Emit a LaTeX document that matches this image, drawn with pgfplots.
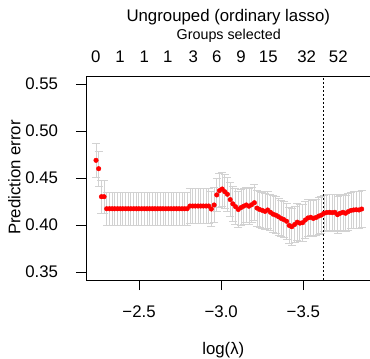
\documentclass[border=0pt]{standalone}
\usepackage{pgfplots}
\usepackage{pgfplotstable}
\usepackage{fontspec}
\setmainfont{Liberation Sans}
\pgfplotsset{compat=1.18}
\definecolor{bargray}{RGB}{210,210,210}
\pgfplotstableread{
x y e
-2.238 0.4688 0.0185
-2.254 0.4599 0.0187
-2.271 0.4301 0.0177
-2.287 0.4301 0.0177
-2.303 0.4173 0.0177
-2.320 0.4173 0.0177
-2.336 0.4173 0.0177
-2.352 0.4173 0.0177
-2.369 0.4173 0.0177
-2.385 0.4173 0.0177
-2.401 0.4173 0.0177
-2.418 0.4173 0.0177
-2.434 0.4173 0.0177
-2.450 0.4173 0.0177
-2.467 0.4173 0.0177
-2.483 0.4173 0.0177
-2.499 0.4173 0.0177
-2.516 0.4173 0.0177
-2.532 0.4173 0.0177
-2.548 0.4173 0.0177
-2.565 0.4173 0.0177
-2.581 0.4173 0.0177
-2.597 0.4173 0.0177
-2.614 0.4173 0.0177
-2.630 0.4173 0.0177
-2.646 0.4173 0.0177
-2.663 0.4173 0.0177
-2.679 0.4173 0.0177
-2.695 0.4173 0.0177
-2.712 0.4173 0.0177
-2.728 0.4173 0.0177
-2.744 0.4173 0.0177
-2.761 0.4173 0.0177
-2.777 0.4173 0.0177
-2.793 0.4173 0.0177
-2.810 0.4202 0.0185
-2.826 0.4202 0.0185
-2.842 0.4202 0.0185
-2.859 0.4202 0.0185
-2.875 0.4202 0.0185
-2.891 0.4202 0.0185
-2.908 0.4202 0.0185
-2.924 0.4202 0.0185
-2.940 0.4170 0.0185
-2.957 0.4213 0.0185
-2.973 0.4320 0.0180
-2.989 0.4365 0.0180
-3.006 0.4383 0.0180
-3.022 0.4354 0.0180
-3.038 0.4327 0.0180
-3.055 0.4270 0.0180
-3.071 0.4225 0.0190
-3.087 0.4195 0.0190
-3.104 0.4165 0.0190
-3.120 0.4185 0.0190
-3.136 0.4200 0.0190
-3.153 0.4213 0.0190
-3.169 0.4200 0.0190
-3.185 0.4215 0.0190
-3.202 0.4237 0.0190
-3.218 0.4180 0.0190
-3.234 0.4165 0.0195
-3.251 0.4155 0.0195
-3.267 0.4145 0.0195
-3.283 0.4160 0.0195
-3.300 0.4135 0.0195
-3.316 0.4115 0.0195
-3.332 0.4105 0.0195
-3.349 0.4088 0.0195
-3.365 0.4070 0.0195
-3.381 0.4058 0.0195
-3.398 0.4040 0.0195
-3.414 0.3995 0.0195
-3.430 0.3982 0.0195
-3.447 0.4005 0.0195
-3.463 0.4030 0.0195
-3.479 0.4020 0.0195
-3.496 0.4025 0.0195
-3.512 0.4053 0.0195
-3.528 0.4075 0.0195
-3.545 0.4082 0.0195
-3.561 0.4070 0.0195
-3.577 0.4080 0.0195
-3.594 0.4095 0.0195
-3.610 0.4106 0.0195
-3.626 0.4125 0.0195
-3.643 0.4133 0.0195
-3.659 0.4135 0.0195
-3.675 0.4131 0.0195
-3.692 0.4135 0.0195
-3.708 0.4110 0.0195
-3.724 0.4125 0.0195
-3.741 0.4135 0.0195
-3.757 0.4125 0.0195
-3.773 0.4142 0.0195
-3.790 0.4155 0.0195
-3.806 0.4160 0.0195
-3.822 0.4162 0.0195
-3.839 0.4160 0.0195
-3.855 0.4170 0.0195
}\cvdata
\begin{document}
\begin{tikzpicture}
\begin{axis}[
  at={(0,0)}, anchor=south west,
  scale only axis, width=286bp, height=204bp,
  x dir=reverse,
  xmin=-3.918, xmax=-2.177, ymin=0.3415, ymax=0.5585,
  xtick={-2.5,-3,-3.5}, xticklabels={−2.5,−3.0,−3.5},
  ytick={0.35,0.40,0.45,0.50,0.55}, yticklabels={0.35,0.40,0.45,0.50,0.55},
  tick align=outside, major tick length=10bp,
  xtick pos=left, ytick pos=left,
  axis line style={line width=0.9bp, black},
  tick style={line width=0.9bp, black},
  font=\fontsize{16.8bp}{20bp}\selectfont,
  xticklabel style={yshift=-12bp},
  yticklabel style={xshift=-14.5bp},
  clip=false,
]
\addplot[only marks, mark=*, mark size=2.3bp, color=red, mark options={fill=red, draw=red},
  error bars/.cd, y dir=both, y explicit,
  error bar style={bargray, line width=0.8bp},
  error mark options={rotate=90, bargray, mark size=4bp, line width=0.8bp}]
  table[x=x, y=y, y error=e] {\cvdata};
\addplot[black, line width=0.9bp, dash pattern=on 2bp off 2bp] coordinates {(-3.624,0.3415) (-3.624,0.5585)};
\end{axis}
\node[anchor=base, font=\fontsize{16.8bp}{20bp}\selectfont] at (142.3bp,258.5bp) {Ungrouped (ordinary lasso)};
\node[anchor=base, font=\fontsize{14.3bp}{17bp}\selectfont] at (142.8bp,240.7bp) {Groups selected};
\foreach \px/\lab in {9.7/0,34/1,58.3/1,81.7/1,107.3/3,130.7/6,155/9,182.3/15,220.7/32,252.3/52}{
  \node[anchor=base, font=\fontsize{16.8bp}{20bp}\selectfont] at (\px bp,217.3bp) {\lab};
}
\node[anchor=base, font=\fontsize{16.8bp}{20bp}\selectfont] at (137.3bp,-74.5bp) {log(λ)};
\node[rotate=90, anchor=base, font=\fontsize{16.8bp}{20bp}\selectfont] at (-65.5bp,102.5bp) {Prediction error};
\pgfresetboundingbox
\path[use as bounding box] (-86bp,-79bp) rectangle (284bp,280bp);
\end{tikzpicture}
\end{document}
